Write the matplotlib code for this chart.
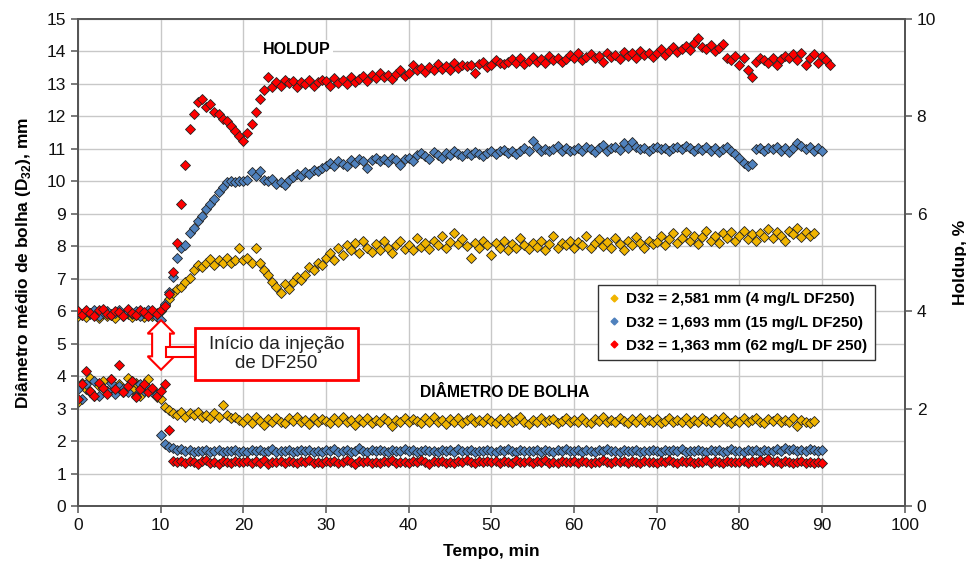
import numpy as np
import matplotlib.pyplot as plt
from matplotlib.patches import Rectangle
from matplotlib.lines import Line2D

plt.rcParams['font.family'] = ['Liberation Sans', 'DejaVu Sans']
plt.rcParams['mathtext.fontset'] = 'custom'
plt.rcParams['mathtext.rm'] = 'Liberation Sans'
plt.rcParams['mathtext.bf'] = 'Liberation Sans:bold'

# sampling interval of the readings, min
DT = 0.5

# holdup, % (right axis)
holdup_4 = [3.90, 3.95, 3.88, 3.97, 3.92, 3.86, 3.96, 3.90, 3.94, 3.87, 3.98, 3.91, 3.95, 3.89, 3.93, 3.97, 3.88, 3.94, 3.90, 3.96,
            4.00, 4.12, 4.25, 4.38, 4.45, 4.50, 4.60, 4.68, 4.85, 4.95, 4.90, 5.00, 5.08, 4.95, 5.05, 5.00, 5.10, 4.98, 5.05, 5.30,
            5.05, 5.10, 5.00, 5.30, 5.00, 4.85, 4.75, 4.60, 4.50, 4.38, 4.55, 4.45, 4.60, 4.70, 4.65, 4.75, 4.90, 4.85, 5.00, 4.95,
            5.10, 5.20, 5.05, 5.30, 5.15, 5.35, 5.25, 5.40, 5.20, 5.45, 5.30, 5.22, 5.38, 5.25, 5.45, 5.30, 5.20, 5.35, 5.45, 5.28,
            5.35, 5.25, 5.50, 5.32, 5.40, 5.28, 5.45, 5.35, 5.55, 5.30, 5.42, 5.60, 5.38, 5.48, 5.33, 5.10, 5.40, 5.30, 5.45, 5.35,
            5.15, 5.40, 5.30, 5.45, 5.25, 5.38, 5.30, 5.50, 5.35, 5.28, 5.40, 5.32, 5.45, 5.25, 5.38, 5.55, 5.30, 5.40, 5.35, 5.45,
            5.30, 5.42, 5.35, 5.55, 5.30, 5.40, 5.48, 5.33, 5.42, 5.30, 5.50, 5.38, 5.25, 5.45, 5.35, 5.52, 5.40, 5.30, 5.45, 5.38,
            5.42, 5.55, 5.35, 5.48, 5.60, 5.40, 5.50, 5.62, 5.45, 5.55, 5.38, 5.52, 5.65, 5.45, 5.55, 5.40, 5.60, 5.50, 5.62, 5.45,
            5.55, 5.65, 5.48, 5.58, 5.45, 5.60, 5.52, 5.68, 5.50, 5.62, 5.55, 5.45, 5.65, 5.58, 5.70, 5.52, 5.62, 5.55, 5.60]

holdup_15 = [3.97, 3.92, 4.00, 3.95, 4.02, 3.90, 3.98, 4.01, 3.93, 3.96, 4.03, 3.92, 3.99, 3.94, 4.00, 3.91, 3.97, 4.02, 3.95, 3.88,
             3.82, 4.15, 4.40, 4.70, 5.10, 5.30, 5.35, 5.60, 5.70, 5.85, 5.95, 6.10, 6.20, 6.30, 6.45, 6.55, 6.65, 6.67, 6.66, 6.68,
             6.67, 6.70, 6.85, 6.78, 6.88, 6.70, 6.68, 6.72, 6.62, 6.66, 6.60, 6.70, 6.75, 6.82, 6.78, 6.86, 6.82, 6.90, 6.88, 6.94,
             6.98, 7.05, 6.98, 7.08, 7.02, 6.98, 7.10, 7.04, 7.12, 7.08, 6.95, 7.10, 7.15, 7.08, 7.12, 7.06, 7.15, 7.10, 7.00, 7.12,
             7.15, 7.08, 7.20, 7.25, 7.18, 7.12, 7.26, 7.20, 7.15, 7.24, 7.20, 7.30, 7.22, 7.18, 7.24, 7.20, 7.27, 7.22, 7.18, 7.25,
             7.30, 7.22, 7.28, 7.32, 7.25, 7.30, 7.22, 7.28, 7.35, 7.30, 7.50, 7.38, 7.30, 7.34, 7.28, 7.33, 7.40, 7.30, 7.35, 7.28,
             7.32, 7.35, 7.30, 7.38, 7.33, 7.27, 7.36, 7.42, 7.30, 7.35, 7.38, 7.32, 7.45, 7.36, 7.48, 7.38, 7.33, 7.36, 7.30, 7.35,
             7.38, 7.33, 7.36, 7.30, 7.35, 7.38, 7.33, 7.40, 7.35, 7.28, 7.36, 7.32, 7.38, 7.30, 7.35, 7.26, 7.33, 7.38, 7.28, 7.22,
             7.15, 7.05, 6.98, 7.02, 7.33, 7.36, 7.30, 7.35, 7.33, 7.38, 7.30, 7.36, 7.27, 7.35, 7.45, 7.40, 7.33, 7.38, 7.30, 7.36,
             7.28]

holdup_62 = [4.00, 3.93, 4.03, 3.97, 3.91, 4.02, 4.05, 3.95, 3.92, 4.01, 3.98, 3.90, 4.04, 3.96, 3.93, 4.03, 3.99, 3.91, 4.02, 3.95,
             4.03, 4.10, 4.35, 4.80, 5.40, 6.20, 7.00, 7.75, 8.05, 8.30, 8.35, 8.20, 8.25, 8.10, 8.05, 7.95, 7.90, 7.80, 7.70, 7.60,
             7.50, 7.65, 7.85, 8.10, 8.35, 8.55, 8.80, 8.60, 8.70, 8.62, 8.75, 8.68, 8.72, 8.60, 8.70, 8.66, 8.74, 8.63, 8.70, 8.75,
             8.72, 8.62, 8.78, 8.68, 8.75, 8.66, 8.80, 8.70, 8.76, 8.82, 8.73, 8.85, 8.78, 8.90, 8.80, 8.86, 8.76, 8.88, 8.95, 8.84,
             8.90, 9.05, 8.95, 9.00, 8.92, 9.02, 8.96, 9.08, 8.98, 9.04, 8.95, 9.10, 9.00, 9.06, 9.03, 9.05, 8.90, 9.08, 9.12, 9.02,
             9.05, 9.15, 9.10, 9.07, 9.12, 9.17, 9.10, 9.20, 9.08, 9.14, 9.22, 9.12, 9.18, 9.10, 9.24, 9.15, 9.20, 9.12, 9.18, 9.26,
             9.20, 9.30, 9.15, 9.22, 9.28, 9.20, 9.25, 9.12, 9.30, 9.22, 9.27, 9.18, 9.33, 9.25, 9.30, 9.20, 9.35, 9.26, 9.30, 9.22,
             9.30, 9.38, 9.27, 9.35, 9.42, 9.32, 9.38, 9.45, 9.36, 9.50, 9.60, 9.42, 9.38, 9.46, 9.35, 9.40, 9.48, 9.20, 9.15, 9.25,
             9.05, 9.20, 8.95, 8.80, 9.12, 9.20, 9.15, 9.10, 9.20, 9.05, 9.18, 9.25, 9.20, 9.28, 9.15, 9.30, 9.05, 9.20, 9.28, 9.10,
             9.25, 9.15, 9.05]

# mean bubble diameter, mm (left axis)
d32_4 = [3.20, 3.80, 3.60, 3.95, 3.40, 3.70, 3.85, 3.55, 3.90, 3.65, 3.75, 3.50, 3.95, 3.60, 3.80, 3.40, 3.70, 3.90, 3.55, 3.35,
         3.30, 3.05, 2.95, 2.85, 2.80, 2.90, 2.75, 2.85, 2.80, 2.90, 2.75, 2.80, 2.70, 2.85, 2.75, 3.10, 2.80, 2.70, 2.75, 2.65,
         2.60, 2.70, 2.55, 2.75, 2.62, 2.50, 2.68, 2.58, 2.72, 2.60, 2.55, 2.70, 2.62, 2.75, 2.58, 2.65, 2.52, 2.70, 2.60, 2.68,
         2.62, 2.55, 2.70, 2.60, 2.75, 2.58, 2.65, 2.50, 2.68, 2.60, 2.72, 2.55, 2.65, 2.58, 2.70, 2.62, 2.48, 2.66, 2.60, 2.72,
         2.58, 2.68, 2.62, 2.55, 2.70, 2.60, 2.75, 2.58, 2.65, 2.52, 2.68, 2.60, 2.70, 2.56, 2.64, 2.72, 2.58, 2.66, 2.60, 2.70,
         2.62, 2.55, 2.68, 2.60, 2.72, 2.58, 2.65, 2.75, 2.60, 2.52, 2.66, 2.60, 2.70, 2.58, 2.64, 2.68, 2.55, 2.62, 2.70, 2.60,
         2.65, 2.58, 2.72, 2.60, 2.55, 2.68, 2.62, 2.75, 2.60, 2.66, 2.58, 2.70, 2.62, 2.55, 2.68, 2.60, 2.72, 2.58, 2.65, 2.60,
         2.68, 2.55, 2.62, 2.70, 2.58, 2.65, 2.60, 2.72, 2.55, 2.66, 2.60, 2.70, 2.62, 2.58, 2.68, 2.60, 2.75, 2.62, 2.55, 2.66,
         2.60, 2.70, 2.58, 2.65, 2.72, 2.60, 2.55, 2.68, 2.62, 2.70, 2.58, 2.66, 2.60, 2.72, 2.48, 2.65, 2.60, 2.55, 2.62]

d32_15 = [3.60, 3.30, 3.75, 3.50, 3.85, 3.40, 3.65, 3.55, 3.80, 3.45, 3.70, 3.60, 3.50, 3.85, 3.40, 3.75, 3.55, 3.65, 3.50, 3.45,
          2.20, 1.90, 1.82, 1.78, 1.72, 1.75, 1.68, 1.72, 1.65, 1.70, 1.68, 1.74, 1.66, 1.70, 1.72, 1.65, 1.70, 1.68, 1.74, 1.66,
          1.70, 1.66, 1.74, 1.68, 1.72, 1.65, 1.70, 1.76, 1.67, 1.71, 1.68, 1.73, 1.66, 1.70, 1.74, 1.68, 1.72, 1.65, 1.70, 1.67,
          1.72, 1.68, 1.75, 1.66, 1.70, 1.73, 1.67, 1.71, 1.78, 1.69, 1.66, 1.72, 1.68, 1.74, 1.70, 1.65, 1.72, 1.68, 1.70, 1.75,
          1.68, 1.72, 1.66, 1.70, 1.74, 1.68, 1.71, 1.65, 1.73, 1.69, 1.72, 1.67, 1.75, 1.70, 1.68, 1.73, 1.66, 1.71, 1.69, 1.74,
          1.70, 1.67, 1.72, 1.68, 1.75, 1.70, 1.66, 1.73, 1.69, 1.71, 1.68, 1.74, 1.67, 1.72, 1.70, 1.66, 1.73, 1.69, 1.75, 1.70,
          1.68, 1.72, 1.66, 1.74, 1.70, 1.67, 1.72, 1.69, 1.76, 1.68, 1.71, 1.66, 1.73, 1.70, 1.68, 1.74, 1.67, 1.71, 1.69, 1.72,
          1.70, 1.66, 1.73, 1.68, 1.72, 1.69, 1.75, 1.67, 1.71, 1.68, 1.74, 1.70, 1.66, 1.72, 1.69, 1.73, 1.67, 1.70, 1.76, 1.68,
          1.71, 1.67, 1.73, 1.69, 1.72, 1.66, 1.74, 1.70, 1.68, 1.75, 1.71, 1.78, 1.72, 1.76, 1.70, 1.74, 1.68, 1.75, 1.72, 1.70,
          1.73]

d32_62 = [3.30, 3.75, 4.15, 3.55, 3.40, 3.80, 3.65, 3.45, 3.90, 3.60, 4.35, 3.50, 3.70, 3.85, 3.35, 3.60, 3.75, 3.50, 3.65, 3.40,
          3.55, 3.75, 2.35, 1.40, 1.35, 1.38, 1.32, 1.40, 1.36, 1.30, 1.38, 1.42, 1.34, 1.37, 1.30, 1.40, 1.35, 1.33, 1.39, 1.36,
          1.35, 1.40, 1.32, 1.38, 1.34, 1.41, 1.30, 1.37, 1.35, 1.40, 1.33, 1.38, 1.36, 1.31, 1.39, 1.35, 1.42, 1.34, 1.37, 1.32,
          1.38, 1.35, 1.40, 1.33, 1.37, 1.42, 1.35, 1.30, 1.38, 1.36, 1.40, 1.34, 1.37, 1.32, 1.39, 1.35, 1.41, 1.34, 1.37, 1.36,
          1.33, 1.39, 1.35, 1.42, 1.36, 1.30, 1.38, 1.35, 1.40, 1.34, 1.37, 1.32, 1.39, 1.36, 1.41, 1.35, 1.33, 1.38, 1.36, 1.40,
          1.35, 1.38, 1.32, 1.40, 1.36, 1.34, 1.42, 1.37, 1.35, 1.39, 1.33, 1.38, 1.36, 1.41, 1.34, 1.37, 1.32, 1.39, 1.36, 1.35,
          1.38, 1.34, 1.40, 1.36, 1.31, 1.37, 1.35, 1.42, 1.36, 1.33, 1.39, 1.35, 1.38, 1.34, 1.40, 1.36, 1.32, 1.38, 1.35, 1.37,
          1.34, 1.39, 1.36, 1.41, 1.35, 1.32, 1.38, 1.36, 1.40, 1.34, 1.37, 1.35, 1.42, 1.33, 1.38, 1.36, 1.31, 1.39, 1.35, 1.37,
          1.36, 1.40, 1.34, 1.38, 1.35, 1.42, 1.37, 1.45, 1.36, 1.40, 1.34, 1.38, 1.35, 1.32, 1.37, 1.40, 1.34, 1.36, 1.33, 1.35,
          1.32]

labels = ['D32 = 2,581 mm (4 mg/L DF250)',
          'D32 = 1,693 mm (15 mg/L DF250)',
          'D32 = 1,363 mm (62 mg/L DF 250)']
colors = ['#F0B400', '#4F81BD', '#FF0000']

fig = plt.figure(figsize=(9.66, 5.64), dpi=100)
ax = fig.add_axes([0.0807, 0.1028, 0.856, 0.8635])
ax2 = ax.twinx()

mk = dict(linestyle='none', marker='D', markersize=4.8, markeredgecolor='#222222', markeredgewidth=0.6)
for d, c in zip([d32_4, d32_15, d32_62], colors):
    t = np.arange(len(d)) * DT
    ax.plot(t, d, color=c, markerfacecolor=c, zorder=3, **mk)
for h, c in zip([holdup_4, holdup_15, holdup_62], colors):
    t = np.arange(len(h)) * DT
    ax2.plot(t, h, color=c, markerfacecolor=c, zorder=3, **mk)

ax.set_xlim(0, 100)
ax.set_ylim(0, 15)
ax2.set_ylim(0, 10)
ax.set_xticks(range(0, 101, 10))
ax.set_yticks(range(0, 16))
ax2.set_yticks(range(0, 11, 2))
ax.grid(True, color='#c8c8c8', linewidth=1.0)
ax.set_axisbelow(True)

for a in (ax, ax2):
    for s in a.spines.values():
        s.set_color('#555555')
        s.set_linewidth(1.3)
    a.tick_params(direction='out', length=5, width=1.1, color='#555555', labelsize=12.5, labelcolor='#111111')

ax.set_xlabel('Tempo, min', fontsize=12.5, fontweight='bold', labelpad=8)
ax.set_ylabel(r'Diâmetro médio de bolha (D$_\mathbf{32}$), mm', fontsize=12.5, fontweight='bold', labelpad=10)
ax2.set_ylabel('Holdup, %', fontsize=12.5, fontweight='bold', labelpad=12)

ax.text(26.4, 14.05, 'HOLDUP', fontsize=11.5, fontweight='bold', ha='center', va='center',
        bbox=dict(fc='white', ec='none', pad=2), zorder=4)
ax.text(51.6, 3.5, 'DIÂMETRO DE BOLHA', fontsize=11.3, fontweight='bold', ha='center', va='center', zorder=4)

# callout for start of injection
ax2.text(10.05, 3.3, ' ' * 9, rotation=90, fontsize=8.5, ha='center', va='center',
         bbox=dict(boxstyle='darrow,pad=0.25', fc='white', ec='red', lw=1.5), zorder=5)
ax2.add_patch(Rectangle((10.7, 3.05), 3.4, 0.22, fc='white', ec='red', lw=1.5, zorder=5))
ax2.add_patch(Rectangle((14.1, 2.59), 19.8, 1.06, fc='white', ec='red', lw=2, zorder=6))
ax2.text(24.0, 3.12, 'Início da injeção\nde DF250', fontsize=13.5, ha='center', va='center',
         linespacing=1.1, color='#222222', zorder=7)

handles = [Line2D([], [], linestyle='none', marker='D', markersize=3.5, color=c,
                  markeredgecolor=c) for c in colors]
leg = ax2.legend(handles, labels, loc='upper left', bbox_to_anchor=(0.62, 0.47),
                 fancybox=False, edgecolor='#333333', framealpha=1,
                 prop={'weight': 'bold', 'size': 11}, handletextpad=0.3, handlelength=1.0,
                 labelspacing=0.6, borderpad=0.5)
leg.get_frame().set_linewidth(1.0)
leg.set_zorder(10)

fig.savefig('out.png', dpi=100)
